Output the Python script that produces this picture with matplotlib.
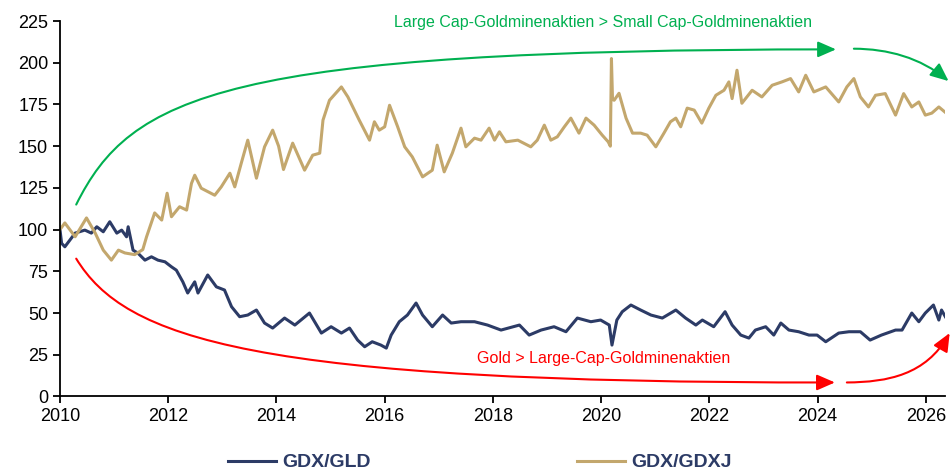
import matplotlib.pyplot as plt
from matplotlib.patches import FancyArrowPatch
from matplotlib.path import Path

plt.rcParams['font.family'] = ['Liberation Sans', 'DejaVu Sans']

# GDX/GDXJ (Jahr als Dezimalzahl)
gdxj_years = [2010.00, 2010.09, 2010.28, 2010.49, 2010.65, 2010.80, 2010.95, 2011.08, 2011.20, 2011.38,
              2011.53, 2011.60, 2011.75, 2011.88, 2011.98, 2012.06, 2012.21, 2012.34, 2012.43, 2012.49,
              2012.61, 2012.86, 2012.98, 2013.14, 2013.23, 2013.35, 2013.47, 2013.63, 2013.78, 2013.93,
              2014.04, 2014.13, 2014.30, 2014.52, 2014.67, 2014.80, 2014.86, 2014.98, 2015.20, 2015.32,
              2015.53, 2015.72, 2015.81, 2015.90, 2016.00, 2016.09, 2016.24, 2016.37, 2016.51, 2016.70,
              2016.88, 2016.97, 2017.10, 2017.25, 2017.41, 2017.50, 2017.66, 2017.78, 2017.93, 2018.03,
              2018.12, 2018.24, 2018.46, 2018.70, 2018.82, 2018.95, 2019.07, 2019.19, 2019.32, 2019.44,
              2019.59, 2019.72, 2019.87, 2020.02, 2020.13, 2020.17, 2020.19, 2020.21, 2020.24, 2020.33,
              2020.46, 2020.58, 2020.73, 2020.85, 2021.01, 2021.16, 2021.28, 2021.38, 2021.47, 2021.59,
              2021.72, 2021.86, 2021.99, 2022.12, 2022.27, 2022.36, 2022.42, 2022.51, 2022.60, 2022.79,
              2022.97, 2023.16, 2023.34, 2023.50, 2023.65, 2023.78, 2023.93, 2024.15, 2024.39, 2024.54,
              2024.67, 2024.79, 2024.94, 2025.07, 2025.25, 2025.44, 2025.59, 2025.74, 2025.87, 2025.99,
              2026.11, 2026.24, 2026.35]
gdxj_values = [100, 104, 95.7, 107, 98, 87.7, 81.7, 87.7, 86, 85,
               88, 95.7, 110, 105.7, 121.8, 107.7, 113.7, 111.7, 127.7, 132.6,
               124.8, 120.6, 125.6, 133.8, 125.6, 139.8, 153.6, 130.8, 149.6, 159.6,
               150, 136, 151.8, 135.6, 144.6, 145.8, 165.6, 177.5, 185.5, 179.5,
               165.6, 153.6, 164.6, 159.6, 161.6, 174.5, 161.6, 149.6, 143.6, 131.6,
               135.6, 150.6, 134.6, 145.8, 160.8, 149.6, 154.8, 153.6, 160.8, 153.6,
               158.6, 152.6, 153.6, 149.6, 153.6, 162.6, 153.6, 155.6, 161.6, 166.8,
               157.8, 166.8, 162.6, 156.6, 152.6, 150, 202.5, 178, 177.5, 181.7,
               166.8, 157.8, 157.8, 156.6, 149.6, 157.8, 164.6, 166.8, 161.6, 172.8,
               171.6, 163.8, 172.8, 180.5, 183.5, 188.5, 178.5, 195.5, 175.7, 183.5,
               179.5, 186.5, 188.5, 190.5, 182.5, 192.5, 182.5, 185.5, 176.5, 185.5,
               190.5, 179.5, 173.5, 180.5, 181.5, 168.6, 181.5, 173.5, 176.5, 168.6,
               169.8, 173.5, 170.5]

# GDX/GLD
gld_years = [2010.00, 2010.03, 2010.09, 2010.28, 2010.46, 2010.58, 2010.68, 2010.80, 2010.92, 2011.05,
             2011.14, 2011.23, 2011.26, 2011.35, 2011.44, 2011.57, 2011.69, 2011.81, 2011.94, 2012.06,
             2012.15, 2012.27, 2012.36, 2012.49, 2012.55, 2012.73, 2012.89, 2013.04, 2013.17, 2013.32,
             2013.47, 2013.63, 2013.78, 2013.93, 2014.15, 2014.34, 2014.61, 2014.83, 2015.01, 2015.20,
             2015.35, 2015.50, 2015.63, 2015.77, 2015.93, 2016.03, 2016.12, 2016.27, 2016.42, 2016.58,
             2016.70, 2016.88, 2017.07, 2017.23, 2017.41, 2017.66, 2017.90, 2018.15, 2018.49, 2018.67,
             2018.89, 2019.13, 2019.35, 2019.56, 2019.81, 2019.99, 2020.15, 2020.20, 2020.29, 2020.39,
             2020.55, 2020.73, 2020.92, 2021.13, 2021.38, 2021.56, 2021.75, 2021.87, 2022.08, 2022.29,
             2022.42, 2022.58, 2022.73, 2022.85, 2023.04, 2023.19, 2023.32, 2023.47, 2023.65, 2023.84,
             2023.99, 2024.15, 2024.39, 2024.58, 2024.79, 2024.97, 2025.18, 2025.44, 2025.56, 2025.74,
             2025.87, 2025.99, 2026.14, 2026.24, 2026.29, 2026.36]
gld_values = [100, 91.8, 89.7, 97.9, 99.7, 97.9, 101.7, 98.7, 104.7, 97.9,
              99.7, 95.7, 101.7, 87.7, 85.9, 81.7, 83.7, 81.7, 80.7, 77.7,
              75.7, 68.7, 62, 68.7, 62, 72.8, 65.7, 63.8, 53.8, 47.8,
              48.8, 51.8, 44, 41, 47, 42.8, 50, 38, 41.8, 38,
              41, 33.8, 29.8, 32.8, 30.8, 29, 36.8, 44.8, 48.8, 56,
              48.8, 41.8, 48.8, 44, 44.8, 44.8, 42.8, 39.8, 42.8, 36.8,
              39.8, 41.8, 38.8, 47, 44.8, 45.8, 42.8, 30.8, 45.8, 50.8,
              54.8, 51.8, 48.8, 47, 51.8, 47, 42.8, 45.8, 41.8, 50.8,
              42.8, 36.8, 35, 39.8, 41.8, 36.8, 44, 39.8, 38.8, 36.8,
              36.8, 32.8, 38, 38.8, 38.8, 33.8, 36.8, 39.8, 39.8, 50,
              44.8, 50, 54.8, 45.8, 51.8, 47.8]

x_ticks = list(range(2010, 2027, 2))
y_ticks = list(range(0, 226, 25))

navy = '#2C3B66'
tan = '#C3A76D'
green = '#00B050'
red = '#FF0000'

fig = plt.figure(figsize=(9.52, 4.72), dpi=100)
ax = fig.add_axes([0.063, 0.16, 0.93, 0.7955])

ax.plot(gld_years, gld_values, color=navy, lw=2.2, label='GDX/GLD')
ax.plot(gdxj_years, gdxj_values, color=tan, lw=2.2, label='GDX/GDXJ')

ax.set_xlim(2010, 2026.36)
ax.set_ylim(0, 225)
ax.set_xticks(x_ticks)
ax.set_yticks(y_ticks)
ax.tick_params(labelsize=13, length=5, width=1.3, direction='out')
for s in ['top', 'right']:
    ax.spines[s].set_visible(False)
for s in ['left', 'bottom']:
    ax.spines[s].set_linewidth(1.3)


def curve_arrow(p0, p1, p2, p3, color):
    path = Path([p0, p1, p2, p3], [Path.MOVETO, Path.CURVE4, Path.CURVE4, Path.CURVE4])
    arr = FancyArrowPatch(path=path, arrowstyle='-|>,head_length=11,head_width=4.8',
                          mutation_scale=1, color=color, lw=1.5,
                          transform=ax.transData, clip_on=False)
    fig.add_artist(arr)


# Pfeile
curve_arrow((2010.3, 115), (2011.3, 180), (2013.0, 208), (2024.34, 208), green)
curve_arrow((2024.67, 208.4), (2025.3, 208.3), (2025.9, 203), (2026.42, 189), green)
curve_arrow((2010.3, 82.6), (2011.2, 35), (2013.5, 8), (2024.32, 8.4), red)
curve_arrow((2024.54, 8.4), (2025.3, 8.6), (2026.0, 13), (2026.44, 38), red)

ax.text(2020.03, 224.3, 'Large Cap-Goldminenaktien > Small Cap-Goldminenaktien',
        color=green, fontsize=11.5, ha='center', va='center')
ax.text(2020.04, 23, 'Gold > Large-Cap-Goldminenaktien',
        color=red, fontsize=11.5, ha='center', va='center')

leg = fig.legend(loc='center', bbox_to_anchor=(0.504, 0.02), ncol=2, frameon=False,
                 handlelength=2.5, handletextpad=0.3, columnspacing=10.6,
                 prop={'size': 14, 'weight': 'bold'})
for t in leg.get_texts():
    t.set_color(navy)

fig.savefig('out.png', dpi=100)
